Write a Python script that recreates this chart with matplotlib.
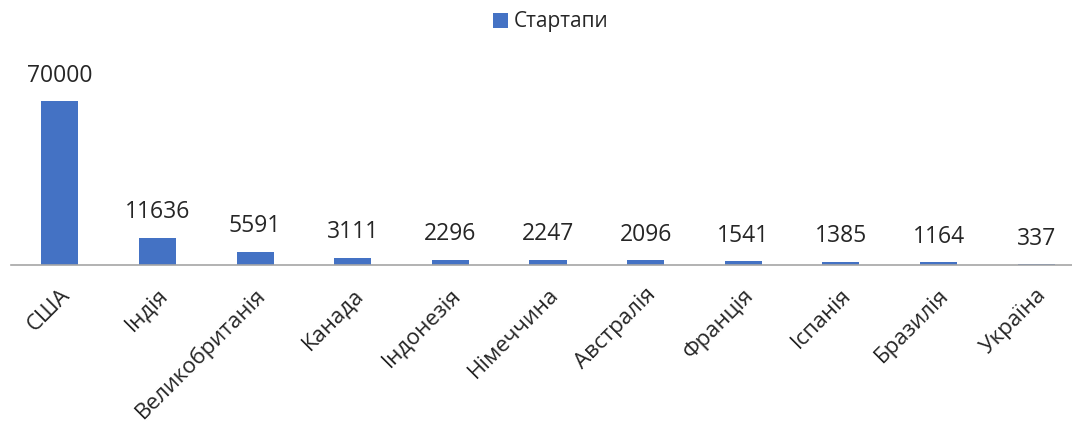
import matplotlib
matplotlib.use("Agg")
import matplotlib.pyplot as plt
import numpy as np

categories = ["США", "Індія", "Великобританія", "Канада", "Індонезія", "Німеччина",
              "Австралія", "Франція", "Іспанія", "Бразилія", "Україна"]
values = [70000, 11636, 5591, 3111, 2296, 2247, 2096, 1541, 1385, 1164, 337]
series_name = "Стартапи"

plt.rcParams['font.family'] = ['Open Sans', 'DejaVu Sans']

fig = plt.figure(figsize=(10.72, 4.25), dpi=100)
ax = fig.add_axes([11/1072, 160/425, 1074/1072, 187/425])
x = np.arange(len(categories))
bars = ax.bar(x, values, width=0.38, color="#4472C4", label=series_name)
ax.set_xlim(-0.5, len(categories) - 0.5)
ax.set_ylim(0, 80000)
for xi, v in zip(x, values):
    ax.annotate(str(v), (xi, v), xytext=(0, 14), textcoords="offset points",
                ha="center", va="baseline", fontsize=16.5, color="#262626")
ax.set_xticks(x)
ax.set_xticklabels(categories, rotation=45, ha="right", va="top", rotation_mode="anchor",
                   fontsize=16, color="#262626")
ax.tick_params(axis="x", length=0, pad=14)
ax.set_yticks([])
for s in ["top", "right", "left"]:
    ax.spines[s].set_visible(False)
ax.spines["bottom"].set_color("#A6A6A6")
ax.spines["bottom"].set_linewidth(1.2)
fig.legend(handles=[bars], labels=[series_name], loc="center", bbox_to_anchor=(551/1072, 1 - 22/425),
           frameon=False, fontsize=15, handlelength=0.7, handleheight=0.7, handletextpad=0.3,
           labelcolor="#262626")
fig.savefig("out.png", dpi=100)
